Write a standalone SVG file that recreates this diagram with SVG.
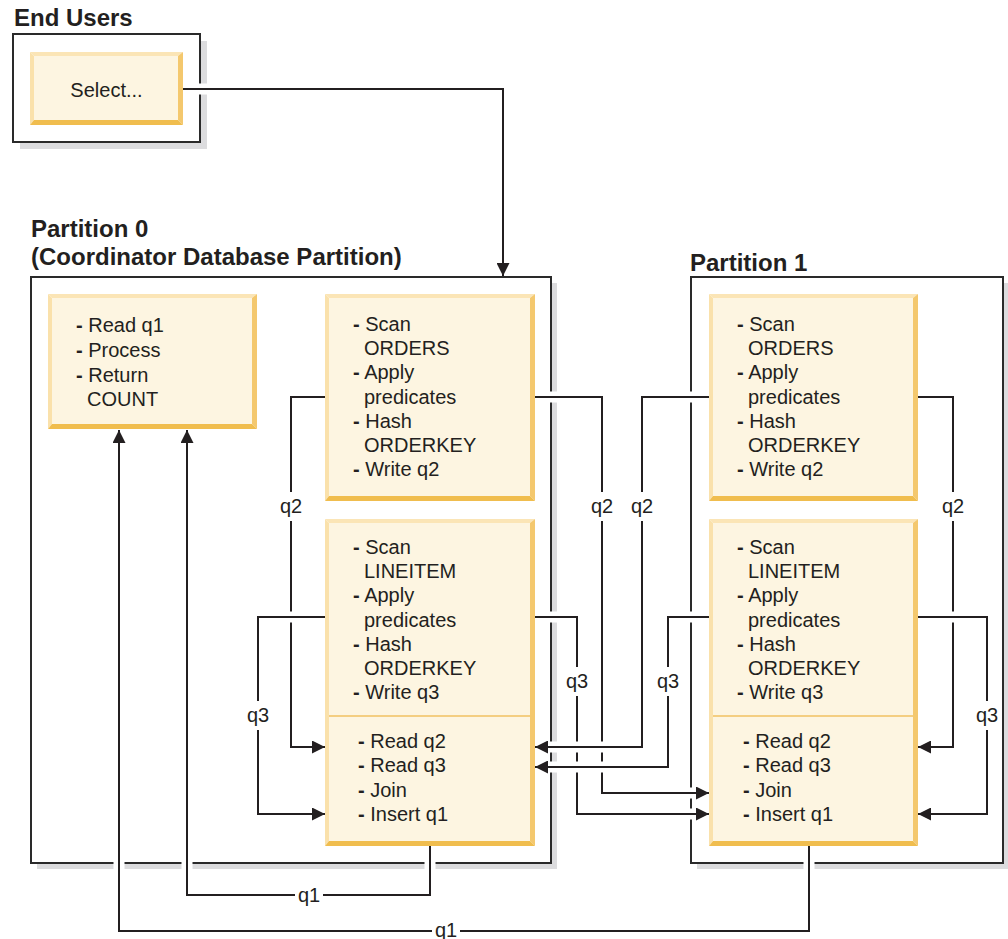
<svg xmlns="http://www.w3.org/2000/svg" width="1008" height="939" viewBox="0 0 1008 939">
  <style>
    .h { font-family: "Liberation Sans", Arial, Helvetica, sans-serif; font-size: 24px; font-weight: bold; fill: #231f20; }
    .t { font-family: "Liberation Sans", Arial, Helvetica, sans-serif; font-size: 20px; fill: #231f20; }
    .t tspan.d { font-weight: bold; }
    .lbl { font-family: "Liberation Sans", Arial, Helvetica, sans-serif; font-size: 20px; fill: #231f20; text-anchor: middle; }
    .frame { fill: #ffffff; stroke: #2a2a2a; stroke-width: 2; }
    .shadow { fill: #dcdcde; }
    .bt { fill: #fbe5b6; }
    .bl { fill: #fae1ab; }
    .br { fill: #f4c86e; }
    .bb { fill: #f0bd4e; }
    .bf { fill: #fdf5e1; }
    .div { stroke: #f0c060; stroke-width: 1.5; }
    .halo { fill: none; stroke: #ffffff; stroke-width: 11; stroke-linejoin: miter; }
    .wire { fill: none; stroke: #231f20; stroke-width: 2; }
    .gap { fill: #ffffff; }
  </style>
  <defs>
    <marker id="arrow" markerUnits="userSpaceOnUse" markerWidth="13" markerHeight="13" refX="13" refY="6.5" orient="auto">
      <path d="M0,0 L13,6.5 L0,13 z" fill="#231f20"/>
    </marker>
  </defs>

  <!-- Headings -->
  <text class="h" x="14" y="26">End Users</text>
  <text class="h" x="31" y="237">Partition 0</text>
  <text class="h" x="31" y="265">(Coordinator Database Partition)</text>
  <text class="h" x="690" y="271">Partition 1</text>

  <!-- Container frames with drop shadows -->
  <g id="end-users">
    <rect class="shadow" x="20" y="41" width="187" height="108"/>
    <rect class="frame" x="13" y="34" width="187" height="108"/>
  </g>
  <g id="partition-0">
    <rect class="shadow" x="37" y="283" width="520" height="586"/>
    <rect class="frame" x="31" y="277" width="520" height="586"/>
  </g>
  <g id="partition-1">
    <rect class="shadow" x="697" y="283" width="312" height="586"/>
    <rect class="frame" x="691" y="277" width="312" height="586"/>
  </g>

  <!-- Connectors: white halos open gaps in the lines they cross -->
  <g id="connectors">
    <path class="halo" d="M183,89 H503 V268"/>
    <path class="wire" d="M183,89 H503 V276" marker-end="url(#arrow)"/>

    <path class="halo" d="M325,397 H291 V747 H325"/>
    <path class="wire" d="M325,397 H291 V747 H325" marker-end="url(#arrow)"/>

    <path class="halo" d="M325,617 H258 V814 H325"/>
    <path class="wire" d="M325,617 H258 V814 H325" marker-end="url(#arrow)"/>

    <path class="halo" d="M535,397 H602 V793 H709"/>
    <path class="wire" d="M535,397 H602 V793 H709" marker-end="url(#arrow)"/>

    <path class="halo" d="M535,617 H577 V814 H709"/>
    <path class="wire" d="M535,617 H577 V814 H709" marker-end="url(#arrow)"/>

    <path class="halo" d="M709,397 H642 V747 H535"/>
    <path class="wire" d="M709,397 H642 V747 H535" marker-end="url(#arrow)"/>

    <path class="halo" d="M709,617 H668 V767 H535"/>
    <path class="wire" d="M709,617 H668 V767 H535" marker-end="url(#arrow)"/>

    <path class="halo" d="M918,397 H953 V747 H918"/>
    <path class="wire" d="M918,397 H953 V747 H918" marker-end="url(#arrow)"/>

    <path class="halo" d="M918,617 H987 V814 H918"/>
    <path class="wire" d="M918,617 H987 V814 H918" marker-end="url(#arrow)"/>

    <path class="halo" d="M430,846 V895 H187 V430"/>
    <path class="wire" d="M430,846 V895 H187 V430" marker-end="url(#arrow)"/>

    <path class="halo" d="M809,846 V931 H119 V430"/>
    <path class="wire" d="M809,846 V931 H119 V430" marker-end="url(#arrow)"/>

    <!-- queue labels sit in breaks of their lines -->
    <rect class="gap" x="280" y="492" width="22" height="29"/>
    <text class="lbl" x="291" y="513">q2</text>
    <rect class="gap" x="591" y="492" width="22" height="29"/>
    <text class="lbl" x="602" y="513">q2</text>
    <rect class="gap" x="631" y="492" width="22" height="29"/>
    <text class="lbl" x="642" y="513">q2</text>
    <rect class="gap" x="942" y="492" width="22" height="29"/>
    <text class="lbl" x="953" y="513">q2</text>

    <rect class="gap" x="247" y="701" width="22" height="29"/>
    <text class="lbl" x="258" y="722">q3</text>
    <rect class="gap" x="566" y="667" width="22" height="29"/>
    <text class="lbl" x="577" y="688">q3</text>
    <rect class="gap" x="657" y="667" width="22" height="29"/>
    <text class="lbl" x="668" y="688">q3</text>
    <rect class="gap" x="976" y="701" width="22" height="29"/>
    <text class="lbl" x="987" y="722">q3</text>

    <rect class="gap" x="295" y="889" width="28" height="12"/>
    <text class="lbl" x="309" y="902">q1</text>
    <rect class="gap" x="432" y="925" width="28" height="12"/>
    <text class="lbl" x="446" y="937">q1</text>
  </g>

  <!-- Select statement -->
  <g id="select">
    <polygon class="bt" points="30,52 183,52 178,56 34,56"/>
    <polygon class="bl" points="30,52 34,56 34,120 30,125"/>
    <polygon class="br" points="183,52 183,125 178,120 178,56"/>
    <polygon class="bb" points="30,125 34,120 178,120 183,125"/>
    <rect class="bf" x="34" y="56" width="144" height="64"/>
    <text class="t" x="106.5" y="97" text-anchor="middle">Select...</text>
  </g>

  <!-- Partition 0: coordinator agent -->
  <g id="p0-coordinator">
    <polygon class="bt" points="48,294 257,294 252,298 52,298"/>
    <polygon class="bl" points="48,294 52,298 52,424 48,429"/>
    <polygon class="br" points="257,294 257,429 252,424 252,298"/>
    <polygon class="bb" points="48,429 52,424 252,424 257,429"/>
    <rect class="bf" x="52" y="298" width="200" height="126"/>
    <text class="t" x="76" y="332"><tspan class="d">-</tspan> Read q1</text>
    <text class="t" x="76" y="357"><tspan class="d">-</tspan> Process</text>
    <text class="t" x="76" y="382"><tspan class="d">-</tspan> Return</text>
    <text class="t" x="87" y="406">COUNT</text>
  </g>

  <!-- Partition 0: ORDERS scan -->
  <g id="p0-orders">
    <polygon class="bt" points="325,294 535,294 530,298 329,298"/>
    <polygon class="bl" points="325,294 329,298 329,496 325,501"/>
    <polygon class="br" points="535,294 535,501 530,496 530,298"/>
    <polygon class="bb" points="325,501 329,496 530,496 535,501"/>
    <rect class="bf" x="329" y="298" width="201" height="198"/>
    <text class="t" x="353" y="331"><tspan class="d">-</tspan> Scan</text>
    <text class="t" x="364" y="355">ORDERS</text>
    <text class="t" x="353" y="379"><tspan class="d">-</tspan> Apply</text>
    <text class="t" x="364" y="404">predicates</text>
    <text class="t" x="353" y="428"><tspan class="d">-</tspan> Hash</text>
    <text class="t" x="364" y="452">ORDERKEY</text>
    <text class="t" x="353" y="476"><tspan class="d">-</tspan> Write q2</text>
  </g>

  <!-- Partition 0: LINEITEM scan and join -->
  <g id="p0-lineitem">
    <polygon class="bt" points="325,519 535,519 530,523 329,523"/>
    <polygon class="bl" points="325,519 329,523 329,841 325,846"/>
    <polygon class="br" points="535,519 535,846 530,841 530,523"/>
    <polygon class="bb" points="325,846 329,841 530,841 535,846"/>
    <rect class="bf" x="329" y="523" width="201" height="318"/>
    <line class="div" x1="329" y1="716" x2="530" y2="716"/>
    <text class="t" x="353" y="554"><tspan class="d">-</tspan> Scan</text>
    <text class="t" x="364" y="578">LINEITEM</text>
    <text class="t" x="353" y="602"><tspan class="d">-</tspan> Apply</text>
    <text class="t" x="364" y="627">predicates</text>
    <text class="t" x="353" y="651"><tspan class="d">-</tspan> Hash</text>
    <text class="t" x="364" y="675">ORDERKEY</text>
    <text class="t" x="353" y="699"><tspan class="d">-</tspan> Write q3</text>
    <text class="t" x="358" y="748"><tspan class="d">-</tspan> Read q2</text>
    <text class="t" x="358" y="772"><tspan class="d">-</tspan> Read q3</text>
    <text class="t" x="358" y="797"><tspan class="d">-</tspan> Join</text>
    <text class="t" x="358" y="821"><tspan class="d">-</tspan> Insert q1</text>
  </g>

  <!-- Partition 1: ORDERS scan -->
  <g id="p1-orders">
    <polygon class="bt" points="709,294 918,294 913,298 713,298"/>
    <polygon class="bl" points="709,294 713,298 713,496 709,501"/>
    <polygon class="br" points="918,294 918,501 913,496 913,298"/>
    <polygon class="bb" points="709,501 713,496 913,496 918,501"/>
    <rect class="bf" x="713" y="298" width="200" height="198"/>
    <text class="t" x="737" y="331"><tspan class="d">-</tspan> Scan</text>
    <text class="t" x="748" y="355">ORDERS</text>
    <text class="t" x="737" y="379"><tspan class="d">-</tspan> Apply</text>
    <text class="t" x="748" y="404">predicates</text>
    <text class="t" x="737" y="428"><tspan class="d">-</tspan> Hash</text>
    <text class="t" x="748" y="452">ORDERKEY</text>
    <text class="t" x="737" y="476"><tspan class="d">-</tspan> Write q2</text>
  </g>

  <!-- Partition 1: LINEITEM scan and join -->
  <g id="p1-lineitem">
    <polygon class="bt" points="709,519 918,519 913,523 713,523"/>
    <polygon class="bl" points="709,519 713,523 713,841 709,846"/>
    <polygon class="br" points="918,519 918,846 913,841 913,523"/>
    <polygon class="bb" points="709,846 713,841 913,841 918,846"/>
    <rect class="bf" x="713" y="523" width="200" height="318"/>
    <line class="div" x1="713" y1="716" x2="913" y2="716"/>
    <text class="t" x="737" y="554"><tspan class="d">-</tspan> Scan</text>
    <text class="t" x="748" y="578">LINEITEM</text>
    <text class="t" x="737" y="602"><tspan class="d">-</tspan> Apply</text>
    <text class="t" x="748" y="627">predicates</text>
    <text class="t" x="737" y="651"><tspan class="d">-</tspan> Hash</text>
    <text class="t" x="748" y="675">ORDERKEY</text>
    <text class="t" x="737" y="699"><tspan class="d">-</tspan> Write q3</text>
    <text class="t" x="743" y="748"><tspan class="d">-</tspan> Read q2</text>
    <text class="t" x="743" y="772"><tspan class="d">-</tspan> Read q3</text>
    <text class="t" x="743" y="797"><tspan class="d">-</tspan> Join</text>
    <text class="t" x="743" y="821"><tspan class="d">-</tspan> Insert q1</text>
  </g>
</svg>
